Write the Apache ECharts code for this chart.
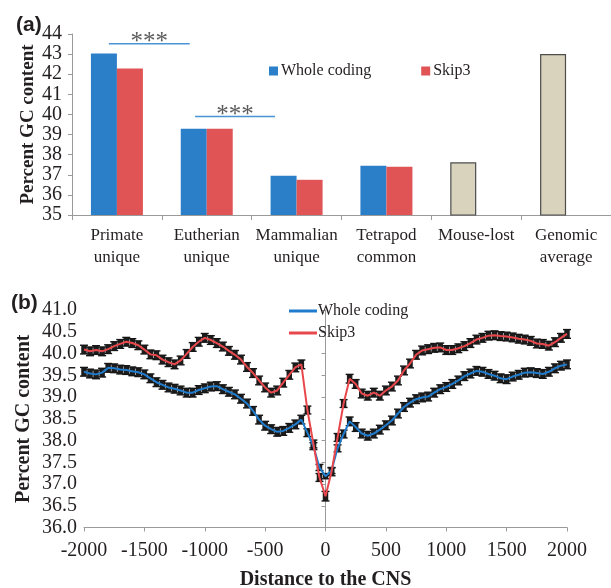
<!DOCTYPE HTML>
<html>
<head>
    <meta charset="utf-8">
    <title>GC content</title>
    <style>
        html, body { margin: 0; padding: 0; background: #fff; }
        #chart { width: 611px; height: 588px; }
    </style>
</head>
<body>
<div id="chart"></div>
<script src="https://cdn.jsdelivr.net/npm/echarts@6/dist/echarts.min.js"></script>
<script>
    // panel (a): bar chart
    var categories = ['Primate\nunique', 'Eutherian\nunique', 'Mammalian\nunique', 'Tetrapod\ncommon', 'Mouse-lost', 'Genomic\naverage'];
    var wholeCoding = [43.03, 39.29, 36.95, 37.45];
    var skip3 = [42.28, 39.29, 36.75, 37.40];
    var referenceGC = [37.62, 43.00];   // Mouse-lost, Genomic average
    var yTicksA = [35, 44, 1];
    // significance brackets, x in category units (0..6)
    var sigBrackets = [
        {from: 0.41, to: 1.31, y: 43.52},
        {from: 1.37, to: 2.26, y: 39.90}
    ];

    // panel (b): profile around the CNS
    var distance = [-2000, -1950, -1900, -1850, -1800, -1750, -1700, -1650, -1600, -1550,
        -1500, -1450, -1400, -1350, -1300, -1250, -1200, -1150, -1100, -1050,
        -1000, -950, -900, -850, -800, -750, -700, -650, -600, -550,
        -500, -450, -400, -350, -300, -250, -200, -150, -100, -50,
        0, 50, 100, 150, 200, 250, 300, 350, 400, 450,
        500, 550, 600, 650, 700, 750, 800, 850, 900, 950,
        1000, 1050, 1100, 1150, 1200, 1250, 1300, 1350, 1400, 1450,
        1500, 1550, 1600, 1650, 1700, 1750, 1800, 1850, 1900, 1950, 2000];
    var wholeProfile = [39.58, 39.54, 39.52, 39.56, 39.67, 39.66, 39.63, 39.62, 39.59, 39.57,
        39.52, 39.43, 39.34, 39.28, 39.22, 39.19, 39.15, 39.10, 39.10, 39.16,
        39.20, 39.24, 39.25, 39.18, 39.12, 39.06, 38.96, 38.85, 38.68, 38.48,
        38.34, 38.26, 38.20, 38.22, 38.29, 38.37, 38.48, 38.18, 37.87, 37.38,
        37.18, 37.31, 37.82, 38.15, 38.44, 38.31, 38.16, 38.11, 38.16, 38.25,
        38.35, 38.46, 38.62, 38.77, 38.87, 38.95, 38.99, 39.01, 39.10, 39.18,
        39.23, 39.30, 39.38, 39.48, 39.54, 39.60, 39.58, 39.53, 39.49, 39.43,
        39.41, 39.47, 39.51, 39.56, 39.57, 39.55, 39.53, 39.58, 39.66, 39.72, 39.75];
    var skip3Profile = [40.09, 40.05, 40.08, 40.05, 40.10, 40.17, 40.22, 40.27, 40.24, 40.19,
        40.09, 39.98, 39.96, 39.86, 39.80, 39.75, 39.84, 39.99, 40.15, 40.27,
        40.36, 40.31, 40.24, 40.16, 40.06, 39.97, 39.86, 39.69, 39.55, 39.38,
        39.22, 39.10, 39.15, 39.33, 39.51, 39.68, 39.75, 38.70, 37.92, 37.15,
        36.72, 37.28, 38.07, 38.85, 39.42, 39.30, 39.08, 39.03, 39.10, 39.03,
        39.15, 39.24, 39.38, 39.61, 39.77, 39.97, 40.07, 40.10, 40.13, 40.14,
        40.08, 40.08, 40.12, 40.17, 40.24, 40.32, 40.36, 40.41, 40.42, 40.40,
        40.39, 40.37, 40.34, 40.32, 40.29, 40.23, 40.22, 40.18, 40.26, 40.36, 40.45];
    var wholeErr = [0.10, 0.10, 0.10, 0.10, 0.10, 0.10, 0.10, 0.10, 0.10, 0.10,
        0.10, 0.10, 0.10, 0.10, 0.10, 0.10, 0.10, 0.10, 0.10, 0.10,
        0.10, 0.10, 0.10, 0.10, 0.10, 0.10, 0.10, 0.10, 0.10, 0.10,
        0.10, 0.10, 0.10, 0.10, 0.10, 0.10, 0.10, 0.09, 0.08, 0.07,
        0.06, 0.07, 0.08, 0.09, 0.10, 0.10, 0.10, 0.10, 0.10, 0.10,
        0.10, 0.10, 0.10, 0.10, 0.10, 0.10, 0.10, 0.10, 0.10, 0.10,
        0.10, 0.10, 0.10, 0.10, 0.10, 0.10, 0.10, 0.10, 0.10, 0.10,
        0.10, 0.10, 0.10, 0.10, 0.10, 0.10, 0.10, 0.10, 0.10, 0.10, 0.10];
    var skip3Err = [0.10, 0.10, 0.10, 0.10, 0.10, 0.10, 0.10, 0.10, 0.10, 0.10,
        0.10, 0.10, 0.10, 0.10, 0.10, 0.10, 0.10, 0.10, 0.10, 0.10,
        0.10, 0.10, 0.10, 0.10, 0.10, 0.10, 0.10, 0.10, 0.10, 0.10,
        0.10, 0.10, 0.10, 0.10, 0.10, 0.10, 0.10, 0.09, 0.09, 0.09,
        0.11, 0.09, 0.09, 0.09, 0.10, 0.10, 0.10, 0.10, 0.10, 0.10,
        0.10, 0.10, 0.10, 0.10, 0.10, 0.10, 0.10, 0.10, 0.10, 0.10,
        0.10, 0.10, 0.10, 0.10, 0.10, 0.10, 0.10, 0.10, 0.10, 0.10,
        0.10, 0.10, 0.10, 0.10, 0.10, 0.10, 0.10, 0.10, 0.10, 0.10, 0.10];
    var yTicksB = [36, 41, 0.5];
    var xTicksB = [-2000, 2000, 500];

    var serif = '"Liberation Serif", "Times New Roman", serif';
    var textColor = '#231f20';
    var axisColor = '#9a9a9a';
    var blue = '#2b7fc8', red = '#e05456', beige = '#d9d3bd';
    var lineBlue = '#1f7bcb', lineRed = '#e8474c';

    function pairs(xs, ys) {
        var out = [];
        for (var i = 0; i < xs.length; i++) out.push([xs[i], ys[i]]);
        return out;
    }
    function errData(xs, ys, es) {
        var out = [];
        for (var i = 0; i < xs.length; i++) out.push([xs[i], ys[i] - es[i], ys[i] + es[i]]);
        return out;
    }
    // one error bar: thick whisker with wide caps, so neighbours merge into a dark band
    function renderErr(params, api) {
        var x = api.value(0);
        var lo = api.coord([x, api.value(1)]);
        var hi = api.coord([x, api.value(2)]);
        var w = 4;
        var cap = {stroke: '#161616', lineWidth: 1.4};
        return {
            type: 'group',
            children: [
                {type: 'line', shape: {x1: lo[0], y1: lo[1], x2: hi[0], y2: hi[1]}, style: {stroke: '#1c1c1c', lineWidth: 5.5}},
                {type: 'line', shape: {x1: lo[0] - w, y1: lo[1], x2: lo[0] + w, y2: lo[1]}, style: cap},
                {type: 'line', shape: {x1: hi[0] - w, y1: hi[1], x2: hi[0] + w, y2: hi[1]}, style: cap}
            ]
        };
    }

    var firstData = wholeCoding.slice();
    for (var k = 0; k < referenceGC.length; k++) {
        firstData.push({
            value: referenceGC[k],
            itemStyle: {color: beige, borderColor: '#4d4d4d', borderWidth: 1.2}
        });
    }
    var secondData = skip3.slice();
    while (secondData.length < categories.length) secondData.push('-');

    var sigSeries = [];
    for (var s = 0; s < sigBrackets.length; s++) {
        var b = sigBrackets[s];
        sigSeries.push({
            type: 'line', xAxisIndex: 1, yAxisIndex: 0, silent: true,
            symbol: 'none', lineStyle: {color: '#4a93d4', width: 1.5},
            data: [[b.from, b.y], [b.to, b.y]]
        });
        sigSeries.push({
            type: 'scatter', xAxisIndex: 1, yAxisIndex: 0, silent: true,
            symbolSize: 0,
            label: {show: true, formatter: '***', position: 'top', distance: -11,
                color: '#333333', fontFamily: serif, fontSize: 25},
            data: [[(b.from + b.to) / 2, b.y]]
        });
    }

    var myChart = echarts.init(document.getElementById('chart'));
    var option = {
        animation: false,
        backgroundColor: '#fff',
        textStyle: {fontFamily: serif, color: textColor},
        title: [
            {text: '(a)', left: 11, top: 10, textStyle: {fontFamily: 'Arial, "Liberation Sans", sans-serif', fontWeight: 'bold', fontSize: 21, color: textColor}},
            {text: '(b)', left: 6, top: 288, textStyle: {fontFamily: 'Arial, "Liberation Sans", sans-serif', fontWeight: 'bold', fontSize: 21, color: textColor}}
        ],
        legend: [
            {
                left: 264, top: 58, itemWidth: 9, itemHeight: 9, itemGap: 50, icon: 'rect',
                textStyle: {fontFamily: serif, fontSize: 16, color: textColor, padding: [0, 0, 0, -2]},
                data: [{name: 'Whole coding', itemStyle: {color: blue}}, {name: 'Skip3', itemStyle: {color: red}}]
            },
            {
                left: 284, top: 298, orient: 'vertical', itemWidth: 28, itemHeight: 3, itemGap: 6, icon: 'rect',
                textStyle: {fontFamily: serif, fontSize: 16, color: textColor, padding: [0, 0, 0, -4]},
                formatter: function (name) { return name.replace(' (b)', ''); },
                data: [{name: 'Whole coding (b)', itemStyle: {color: lineBlue}}, {name: 'Skip3 (b)', itemStyle: {color: lineRed}}]
            }
        ],
        grid: [
            {left: 72, right: 0, top: 34, height: 181, outerBoundsMode: 'none'},
            {left: 84, top: 310, width: 483, height: 217.5, outerBoundsMode: 'none'}
        ],
        xAxis: [
            {
                type: 'category', gridIndex: 0, data: categories,
                axisLine: {lineStyle: {color: axisColor, width: 1}},
                axisTick: {show: true, length: 5, lineStyle: {color: axisColor}},
                axisLabel: {fontFamily: serif, fontSize: 17, color: textColor, lineHeight: 22, margin: 10, interval: 0}
            },
            {type: 'value', gridIndex: 0, min: 0, max: 6, show: false},
            {
                type: 'value', gridIndex: 1, min: xTicksB[0], max: xTicksB[1], interval: xTicksB[2],
                name: 'Distance to the CNS', nameLocation: 'middle', nameGap: 42,
                nameTextStyle: {fontFamily: serif, fontSize: 20, fontWeight: 'bold', color: textColor},
                splitLine: {show: false},
                axisLine: {onZero: false, lineStyle: {color: axisColor}},
                axisTick: {length: 4, lineStyle: {color: axisColor}},
                axisLabel: {fontFamily: serif, fontSize: 20, color: textColor, margin: 13,
                    formatter: function (v) { return String(v); }}
            }
        ],
        yAxis: [
            {
                type: 'value', gridIndex: 0, min: yTicksA[0], max: yTicksA[1], interval: yTicksA[2],
                name: 'Percent GC content', nameLocation: 'middle', nameGap: 41, nameMoveOverlap: false,
                nameTextStyle: {fontFamily: serif, fontSize: 19, fontWeight: 'bold', color: textColor, padding: [0, 0, -7, 0]},
                splitLine: {show: false},
                axisLine: {show: true, lineStyle: {color: axisColor}},
                axisTick: {show: true, length: 4, lineStyle: {color: axisColor}},
                axisLabel: {fontFamily: serif, fontSize: 20, color: textColor, margin: 10}
            },
            {
                type: 'value', gridIndex: 1, min: yTicksB[0], max: yTicksB[1], interval: yTicksB[2],
                name: 'Percent GC content', nameLocation: 'middle', nameGap: 53, nameMoveOverlap: false,
                nameTextStyle: {fontFamily: serif, fontSize: 20, fontWeight: 'bold', color: textColor, padding: [0, 0, -3, 0]},
                splitLine: {show: false},
                axisLine: {show: true, lineStyle: {color: axisColor}},
                axisTick: {show: true, length: 4, lineStyle: {color: axisColor}},
                axisLabel: {fontFamily: serif, fontSize: 20, color: textColor, margin: 7,
                    formatter: function (v) { return v.toFixed(1); }}
            }
        ],
        series: [
            {
                name: 'Whole coding', type: 'bar', xAxisIndex: 0, yAxisIndex: 0,
                barWidth: 26, barGap: '0%', itemStyle: {color: blue}, data: firstData
            },
            {
                name: 'Skip3', type: 'bar', xAxisIndex: 0, yAxisIndex: 0,
                barWidth: 26, barGap: '0%', itemStyle: {color: red}, data: secondData
            },
            {
                type: 'custom', xAxisIndex: 2, yAxisIndex: 1, renderItem: renderErr, silent: true,
                z: 1, data: errData(distance, wholeProfile, wholeErr)
            },
            {
                type: 'custom', xAxisIndex: 2, yAxisIndex: 1, renderItem: renderErr, silent: true,
                z: 1, data: errData(distance, skip3Profile, skip3Err)
            },
            {
                name: 'Whole coding (b)', type: 'line', xAxisIndex: 2, yAxisIndex: 1,
                symbol: 'none', z: 3, lineStyle: {color: lineBlue, width: 2}, itemStyle: {color: lineBlue},
                data: pairs(distance, wholeProfile)
            },
            {
                name: 'Skip3 (b)', type: 'line', xAxisIndex: 2, yAxisIndex: 1,
                symbol: 'none', z: 3, lineStyle: {color: lineRed, width: 2}, itemStyle: {color: lineRed},
                data: pairs(distance, skip3Profile)
            }
        ].concat(sigSeries)
    };
    myChart.setOption(option);
</script>
</body>
</html>
